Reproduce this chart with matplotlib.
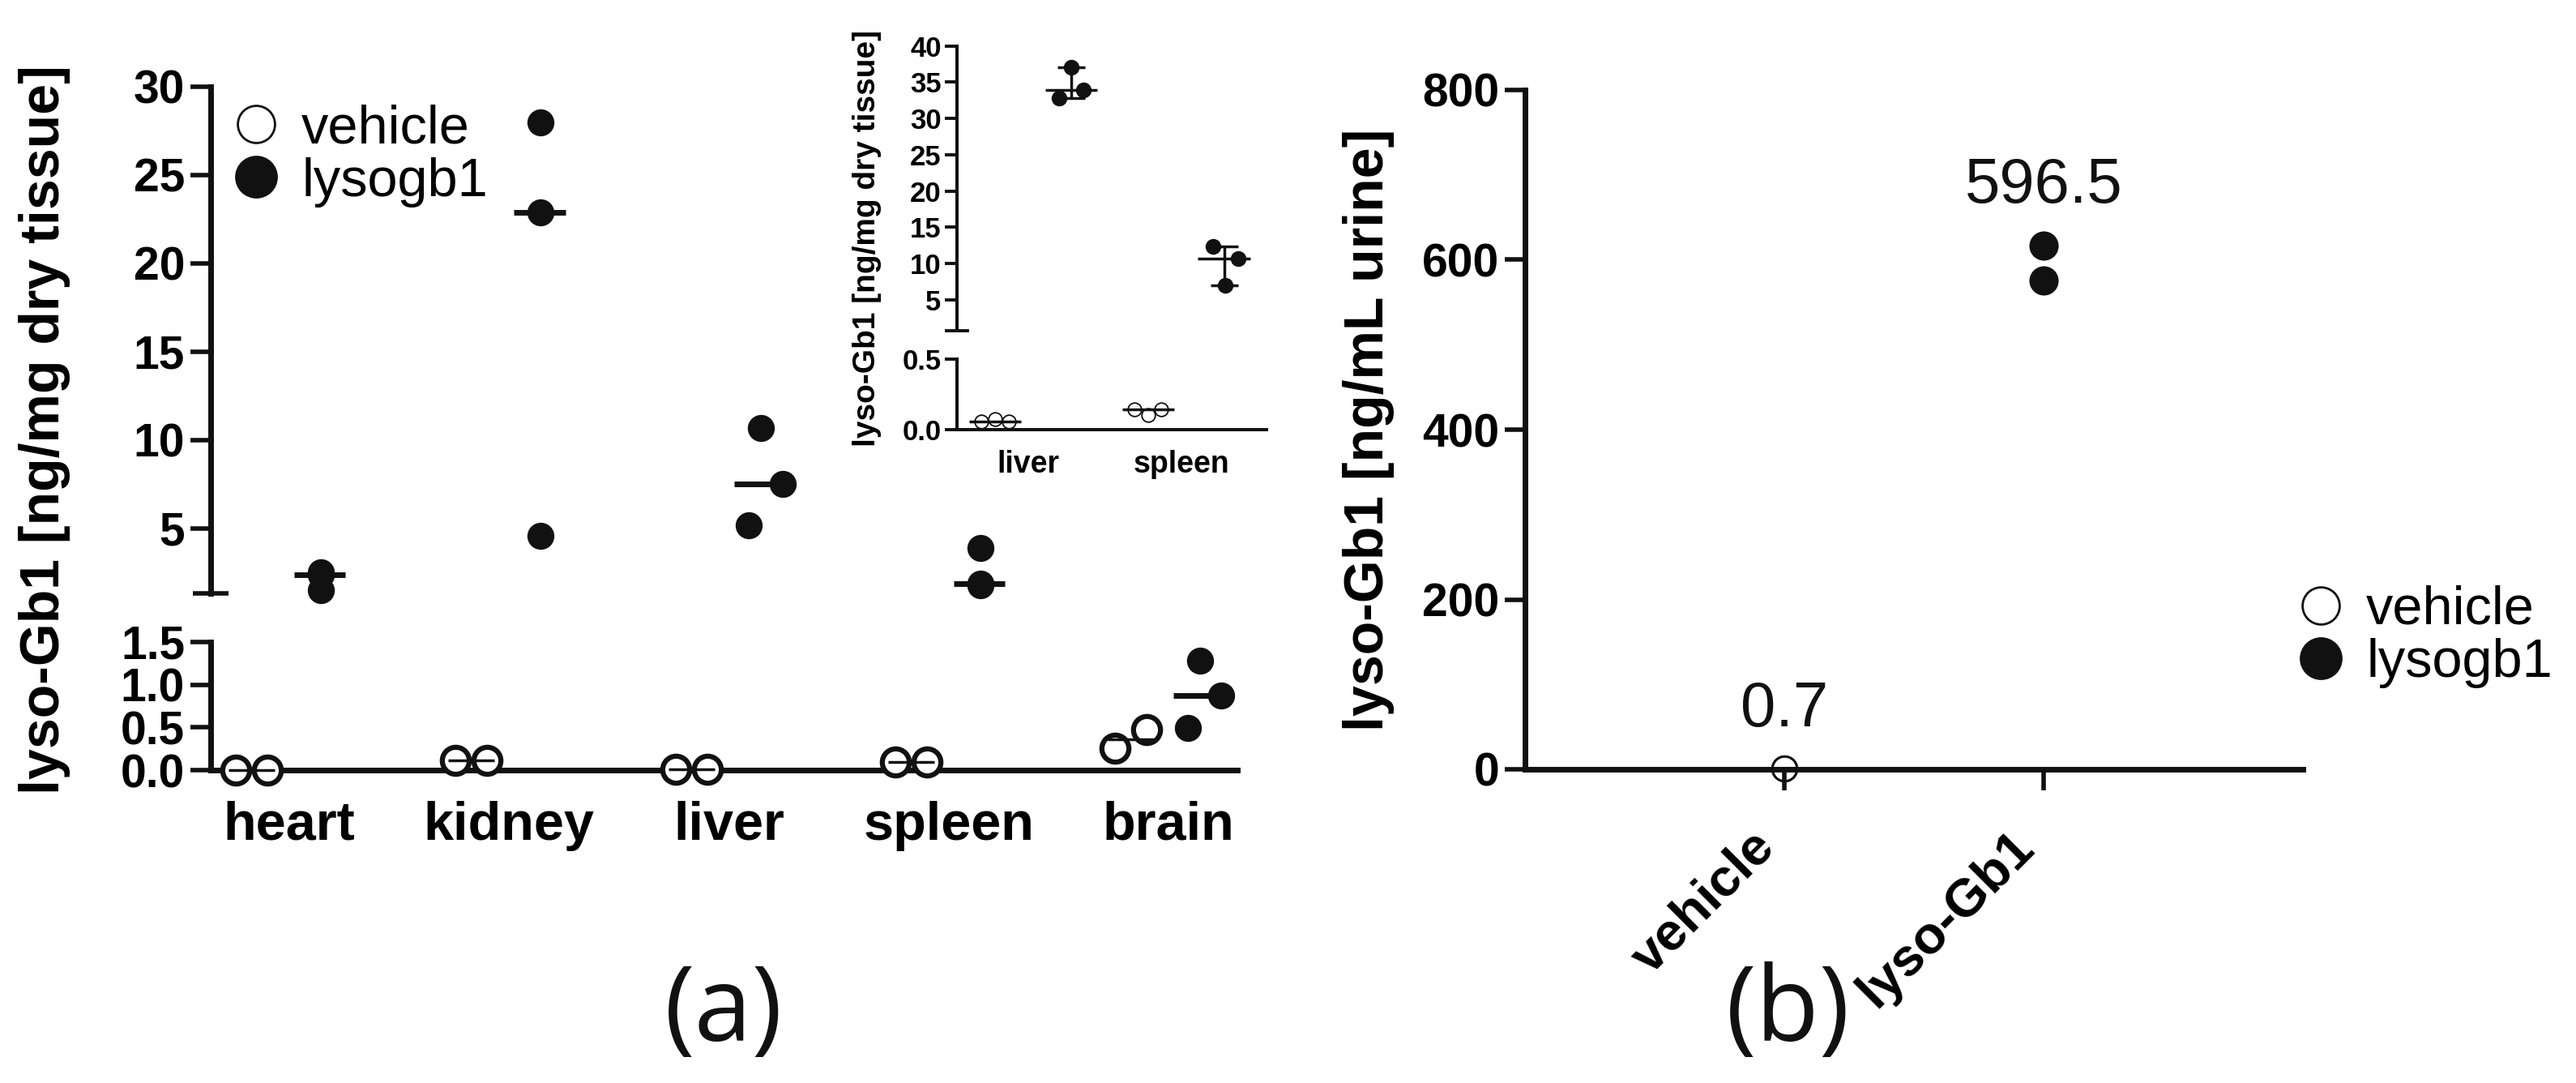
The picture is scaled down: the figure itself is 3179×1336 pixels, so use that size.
import numpy as np
import matplotlib
matplotlib.use("Agg")
import matplotlib.pyplot as plt
from matplotlib.lines import Line2D

plt.rcParams['font.family'] = ['Liberation Sans', 'DejaVu Sans']
plt.rcParams['font.weight'] = 'bold'

# ---- data (a): lyso-Gb1 in tissues, ng/mg dry tissue
tissues = ["heart", "kidney", "liver", "spleen", "brain"]
vehicle_tissue = [[0.0, 0.0], [0.11, 0.11], [0.01, 0.01], [0.095, 0.095], [0.26, 0.47]]
lysogb1_tissue = [[2.5, 2.4, 1.5], [28.0, 22.9, 4.6], [10.7, 7.5, 5.2],
                  [3.9, 1.9, 1.8], [1.28, 0.87, 0.49]]

# ---- inset data
inset_tissues = ["liver", "spleen"]
vehicle_inset = [[0.058, 0.077, 0.058], [0.144, 0.106, 0.144]]
lysogb1_inset = [[37.1, 32.8, 33.9], [12.35, 10.7, 6.97]]

# ---- data (b): urine, ng/mL
urine_groups = ["vehicle", "lyso-Gb1"]
urine_values = [[0.6, 0.8], [617, 576]]

# scatter offsets inside each category (layout only)
veh_off, veh_dx = -0.17, [-0.072, 0.072]
lyso_off = 0.145
lyso_dx = [[0, 0, 0], [0, 0, 0], [0, 0.1, -0.055], [0, 0, 0], [0, 0.095, -0.055]]
ins_veh_off, ins_veh_dx = -0.217, [-0.088, 0, 0.088]
ins_lyso_off = 0.28
ins_lyso_dx = [[0, -0.08, 0.08], [-0.07, 0.09, 0.01]]

K = '#111111'
W, H = 3179, 1336
fig = plt.figure(figsize=(W / 100, H / 100), dpi=100)


def box(x0, y0, x1, y1):
    return [x0 / W, 1 - y1 / H, (x1 - x0) / W, (y1 - y0) / H]


def style(ax, lw):
    for s in ['top', 'right']:
        ax.spines[s].set_visible(False)
    for s in ['left', 'bottom']:
        ax.spines[s].set_linewidth(lw)
        ax.spines[s].set_color(K)
    ax.set_facecolor('none')


def put(ax_hi, ax_lo, cut, xs, ys, **kw):
    for x, y in zip(xs, ys):
        ax = ax_hi if y >= cut else ax_lo
        ax.plot([x], [y], ls='none', clip_on=False, zorder=4, **kw)


def median_line(ax_hi, ax_lo, cut, xc, half, vals, lw):
    m = np.median(vals)
    ax = ax_hi if m >= cut else ax_lo
    ax.hlines(m, xc - half, xc + half, color=K, lw=lw, clip_on=False, zorder=5)
    return m


# ================= panel (a) =================
ax_hi = fig.add_axes(box(260, 107, 1527, 732))
ax_lo = fig.add_axes(box(260, 792, 1527, 950))
cut_a = 1.33
for ax in (ax_hi, ax_lo):
    style(ax, 5)
    ax.set_xlim(-0.356, 4.313)
ax_hi.set_ylim(cut_a, 30)
ax_lo.set_ylim(0, 1.5)
ax_hi.spines['bottom'].set_visible(False)
ax_hi.set_xticks([])
ax_hi.set_yticks([5, 10, 15, 20, 25, 30])
ax_hi.set_yticks([cut_a], minor=True)
ax_lo.set_yticks([0, 0.5, 1.0, 1.5])
ax_lo.set_yticklabels(["0.0", "0.5", "1.0", "1.5"])
ax_lo.set_yticks([1.5], minor=True)
for ax in (ax_hi, ax_lo):
    ax.tick_params(axis='y', which='major', direction='out', length=18, width=4,
                   labelsize=41, pad=5, color=K)
    ax.tick_params(axis='y', which='minor', direction='inout', length=31, width=4, color=K)
ax_lo.set_xticks(range(len(tissues)))
ax_lo.set_xticklabels(tissues, fontsize=48)
ax_lo.tick_params(axis='x', length=0, pad=27)

for i in range(len(tissues)):
    vv = vehicle_tissue[i]
    xs = [i + veh_off + d for d in veh_dx]
    median_line(ax_hi, ax_lo, cut_a, i + veh_off, 0.105, vv, 2.5)
    put(ax_hi, ax_lo, cut_a, xs, vv, marker='o', ms=24, mfc='white', mec=K, mew=4.5)
    lv = lysogb1_tissue[i]
    xs = [i + lyso_off + d for d in lyso_dx[i]]
    put(ax_hi, ax_lo, cut_a, xs, lv, marker='o', ms=24, mfc=K, mec=K, mew=0)
    median_line(ax_hi, ax_lo, cut_a, i + lyso_off - 0.005, 0.117, lv, 5)

fig.text(55 / W, 1 - 530 / H, "lyso-Gb1 [ng/mg dry tissue]", rotation=90,
         ha='center', va='center', fontsize=49)

leg_handles = [
    Line2D([], [], marker='o', ls='none', ms=33, mfc='white', mec=K, mew=2),
    Line2D([], [], marker='o', ls='none', ms=38, mfc=K, mec=K, mew=0),
]
fig.legend(leg_handles, ["vehicle", "lysogb1"], loc='upper left',
           bbox_to_anchor=(0.089, 0.904), frameon=False,
           prop={'size': 48, 'weight': 'normal'}, handlelength=1.0,
           handletextpad=0.34, borderpad=0, borderaxespad=0, labelspacing=0.05)

# ================= inset =================
ins_hi = fig.add_axes(box(1181, 56.7, 1563, 408))
ins_lo = fig.add_axes(box(1181, 443.3, 1563, 530))
cut_i = 0.72
for ax in (ins_hi, ins_lo):
    style(ax, 2.9)
    ax.set_xlim(-0.466, 1.558)
ins_hi.set_ylim(cut_i, 40)
ins_lo.set_ylim(0, 0.5)
ins_hi.spines['bottom'].set_visible(False)
ins_hi.set_xticks([])
ins_hi.set_yticks([5, 10, 15, 20, 25, 30, 35, 40])
ins_hi.set_yticks([cut_i], minor=True)
ins_lo.set_yticks([0, 0.5])
ins_lo.set_yticklabels(["0.0", "0.5"])
ins_lo.set_yticks([0.5], minor=True)
for ax in (ins_hi, ins_lo):
    ax.tick_params(axis='y', which='major', direction='out', length=11, width=2.8,
                   labelsize=25, pad=3, color=K)
    ax.tick_params(axis='y', which='minor', direction='inout', length=22, width=2.8, color=K)
ins_lo.set_xticks(range(len(inset_tissues)))
ins_lo.set_xticklabels(inset_tissues, fontsize=27)
ins_lo.tick_params(axis='x', length=0, pad=18)

for i in range(len(inset_tissues)):
    vv = vehicle_inset[i]
    xs = [i + ins_veh_off + d for d in ins_veh_dx]
    median_line(ins_hi, ins_lo, cut_i, i + ins_veh_off, 0.17, vv, 2.5)
    put(ins_hi, ins_lo, cut_i, xs, vv, marker='o', ms=12, mfc='none', mec=K, mew=1.3)
    lv = lysogb1_inset[i]
    xs = [i + ins_lyso_off + d for d in ins_lyso_dx[i]]
    put(ins_hi, ins_lo, cut_i, xs, lv, marker='o', ms=14, mfc=K, mec=K, mew=0)
    m = median_line(ins_hi, ins_lo, cut_i, i + ins_lyso_off, 0.17, lv, 2.5)
    ins_hi.errorbar([i + ins_lyso_off], [m], yerr=[[m - min(lv)], [max(lv) - m]],
                    fmt='none', ecolor=K, elinewidth=2.5, capsize=12, capthick=2.5,
                    clip_on=False, zorder=5)

fig.text(1070 / W, 1 - 294 / H, "lyso-Gb1 [ng/mg dry tissue]", rotation=90,
         ha='center', va='center', fontsize=28)

# ================= panel (b) =================
ax_b = fig.add_axes(box(1882, 111, 2842, 949))
style(ax_b, 5)
ax_b.set_xlim(-1, 2)
ax_b.set_ylim(0, 800)
ax_b.set_yticks([0, 200, 400, 600, 800])
ax_b.tick_params(axis='y', direction='out', length=18, width=4, labelsize=41, pad=5, color=K)
ax_b.set_xticks(range(len(urine_groups)))
ax_b.set_xticklabels(urine_groups, fontsize=47, rotation=45, ha='right')
ax_b.tick_params(axis='x', direction='out', length=19, width=4, pad=28, color=K)

ax_b.plot([0] * len(urine_values[0]), urine_values[0], ls='none', marker='o', ms=22,
          mfc='none', mec=K, mew=2, clip_on=False, zorder=4)
ax_b.plot([1] * len(urine_values[1]), urine_values[1], ls='none', marker='o', ms=26,
          mfc=K, mec=K, mew=0, clip_on=False, zorder=4)
for i, vals in enumerate(urine_values):
    ax_b.text(i, max(vals) + 50, f"{np.mean(vals):.1f}", ha='center', va='baseline',
              fontsize=56, fontweight='normal', color=K)

fig.text(1689 / W, 1 - 530 / H, "lyso-Gb1 [ng/mL urine]", rotation=90,
         ha='center', va='center', fontsize=49)
fig.legend(leg_handles, ["vehicle", "lysogb1"], loc='upper left',
           bbox_to_anchor=(0.8905, 0.4596), frameon=False,
           prop={'size': 48, 'weight': 'normal'}, handlelength=1.0,
           handletextpad=0.34, borderpad=0, borderaxespad=0, labelspacing=0.05)

# panel letters
for x, letter in [(893, "(a)"), (2207, "(b)")]:
    fig.text(x / W, 1 - 1251 / H, letter, ha='center', va='center', fontsize=92,
             fontweight='normal', family=['Open Sans', 'DejaVu Sans'], color=K)

fig.savefig("out.png", dpi=100, facecolor='white')
